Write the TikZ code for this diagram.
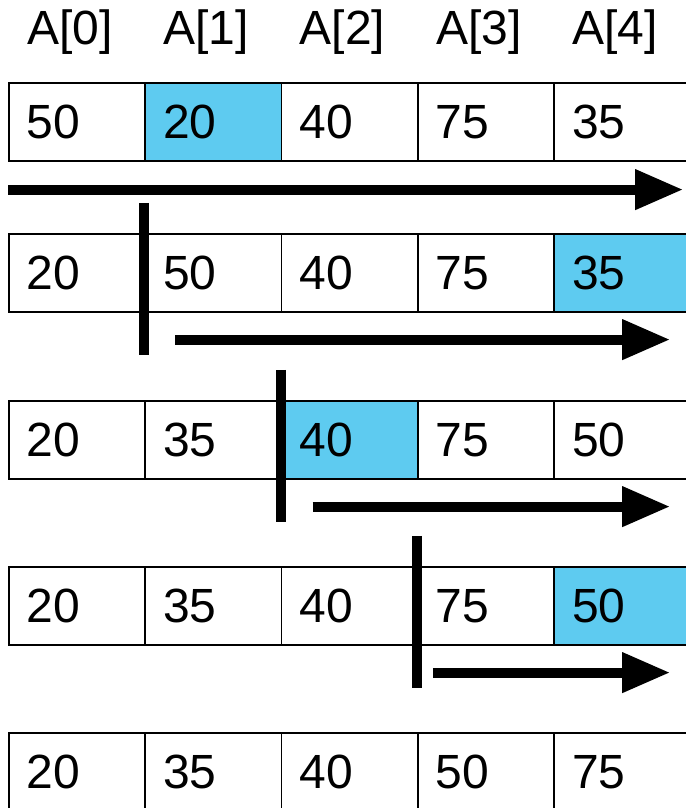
\documentclass[tikz,border=0pt]{standalone}
\usepackage{fontspec}
\setmainfont{Liberation Sans}
\usetikzlibrary{arrows.meta}
\definecolor{pickblue}{RGB}{94,203,240}

\begin{document}
\begin{tikzpicture}[x=1pt, y=1pt, >={Triangle[length=48pt,width=38pt]},
    cell/.style={draw, line width=1.6pt, minimum width=136.3pt, minimum height=78pt,
      text width=100.3pt, inner xsep=18pt, align=left, anchor=north west,
      font=\fontsize{48}{56}\selectfont},
    idx/.style={anchor=base west, inner sep=0pt, font=\fontsize{48}{56}\selectfont},
    bar/.style={line width=10pt},
    sweep/.style={line width=10pt, ->}]
  \useasboundingbox (0,0) rectangle (685,808);
  % index labels
  \foreach \c in {0,...,4}
    \node[idx] (a\c) at (27+136.3*\c, 763) {A[\c]};
  % rows of the array, one per pass
  \foreach \r/\y/\vals/\hl in {1/726/{50,20,40,75,35}/1,
                               2/575/{20,50,40,75,35}/4,
                               3/408/{20,35,40,75,50}/2,
                               4/242/{20,35,40,75,50}/4,
                               5/76/{20,35,40,50,75}/9} {
    \foreach \v [count=\c from 0] in \vals {
      \ifnum\c=\hl \def\cellfill{pickblue}\else\def\cellfill{white}\fi
      \node[cell, fill=\cellfill] (c\r\c) at (8+136.3*\c, \y) {\v};
    }
  }
  % first pass scans the whole array
  \coordinate (s1) at ([yshift=-28pt]c10.south west);
  \coordinate (e1) at ([xshift=130pt,yshift=-28pt]c14.south west);
  \draw[sweep] (s1) -- (e1);
  % sorted part | scan of the rest
  \foreach \r/\k/\gap in {2/1/31,3/2/32,4/3/16} {
    \coordinate (t\r) at ([yshift=30pt]c\r\k.north west);
    \coordinate (b\r) at ([yshift=-42pt]c\r\k.south west);
    \draw[bar] (t\r) -- (b\r);
    \coordinate (s\r) at ([xshift=\gap pt,yshift=-27pt]c\r\k.south west);
    \coordinate (e\r) at ([xshift=117pt,yshift=-27pt]c\r4.south west);
    \draw[sweep] (s\r) -- (e\r);
  }
\end{tikzpicture}
\end{document}
